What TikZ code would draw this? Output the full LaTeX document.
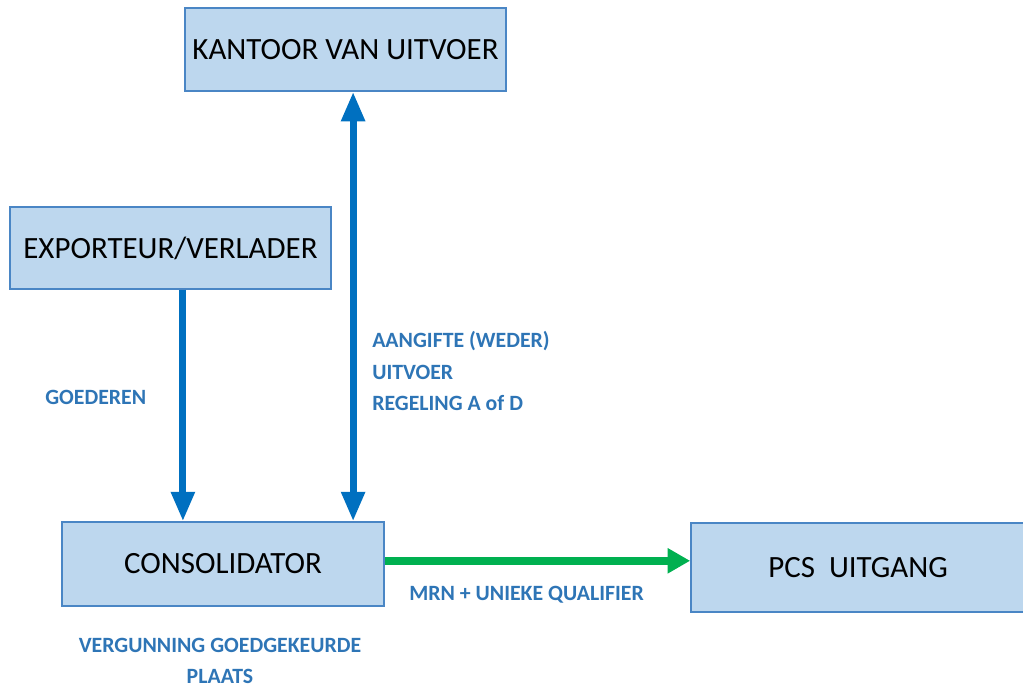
\documentclass[tikz,border=0pt]{standalone}
\usepackage{fontspec}
\setmainfont{Carlito}
\usetikzlibrary{arrows.meta}

\definecolor{boxfill}{HTML}{BDD7EE}
\definecolor{boxline}{HTML}{4A86C5}
\definecolor{arrowblue}{HTML}{0070C0}
\definecolor{labelblue}{HTML}{2E75B6}
\definecolor{arrowgreen}{HTML}{00B050}

\tikzset{
	box/.style={draw=boxline, line width=1pt, fill=boxfill, inner sep=0pt, font=\fontsize{22}{26}\selectfont},
	lbl/.style={text=labelblue, inner sep=0pt, font=\bfseries\fontsize{15.5}{22.5}\selectfont},
	bluearrow/.style={draw=arrowblue, line width=5pt, -{Triangle[width=16pt,length=21pt]}},
	greenarrow/.style={draw=arrowgreen, line width=5.5pt, -{Triangle[width=17pt,length=16pt]}}
}

\begin{document}
\begin{tikzpicture}[x=0.025cm, y=-0.025cm]
				\useasboundingbox (0,0) rectangle (1023,688);
				\node[box, minimum width=8.03cm, minimum height=2.08cm] (kantoor) at (345.5, 49.5) {KANTOOR VAN UITVOER};
				\node[box, minimum width=8.03cm, minimum height=2.05cm] (exporteur) at (170.5, 248) {EXPORTEUR/VERLADER};
				\node[box, minimum width=8.05cm, minimum height=2.1cm] (consolidator) at (223, 564) {CONSOLIDATOR};
				\node[box, minimum width=8.73cm, minimum height=2.23cm] (pcs) at (865.5, 567.5) {\hspace*{-0.37cm}PCS\ \ UITGANG};
				
				% goods flow and declaration
				\draw[bluearrow] ([xshift=0.31cm]exporteur.south) -- ([xshift=0.31cm]exporteur.south |- consolidator.north);
				\draw[bluearrow, {Triangle[width=16pt,length=21pt]}-{Triangle[width=16pt,length=21pt]}] ([xshift=0.19cm]kantoor.south) -- ([xshift=0.19cm]kantoor.south |- consolidator.north);
				\draw[greenarrow] ([yshift=0.08cm]consolidator.east) -- ([yshift=0.08cm]consolidator.east -| pcs.west);
				
				% labels
				\node[lbl, anchor=west] (goederen) at (45, 397) {GOEDEREN};
				\node[lbl, anchor=west, align=left] (aangifte) at (372, 371) {AANGIFTE (WEDER)\\UITVOER\\REGELING A of D};
				\node[lbl, anchor=west] (mrn) at (409, 595) {MRN + UNIEKE QUALIFIER};
				\node[lbl, align=center] (vergunning) at (220, 661) {VERGUNNING GOEDGEKEURDE\\PLAATS};
\end{tikzpicture}
\end{document}
